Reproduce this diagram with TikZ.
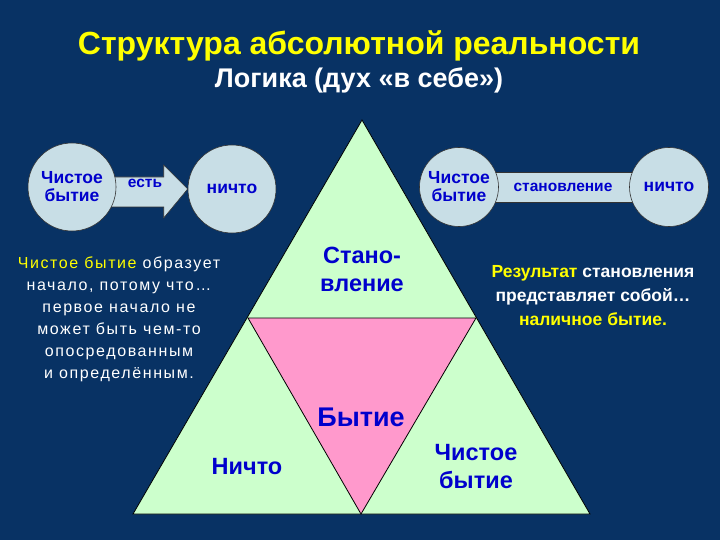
\documentclass[tikz,border=0pt]{standalone}
\usepackage{fontspec}
\setmainfont{Liberation Sans}
\newfontfamily\spacedfont[LetterSpace=10]{Liberation Sans}
\usetikzlibrary{calc}
\definecolor{bgnavy}{RGB}{8,50,100}
\definecolor{trigreen}{RGB}{204,255,204}
\definecolor{tripink}{RGB}{255,153,204}
\definecolor{circfill}{RGB}{200,222,230}
\definecolor{txtblue}{RGB}{0,0,204}
\definecolor{ttlyellow}{RGB}{255,255,0}
\pgfdeclarelayer{back}
\pgfdeclarelayer{bg}
\pgfsetlayers{back,bg,main}
\tikzset{
  circ/.style={circle, draw=black!80, line width=0.6pt, fill=circfill, text=txtblue, font=\bfseries\fontsize{17.5}{18}\selectfont, align=center, inner sep=0pt},
  conn/.style={draw=black!80, line width=0.6pt, fill=circfill},
  tri/.style={draw=black, line width=0.8pt},
  tlabel/.style={text=txtblue, font=\bfseries\fontsize{23.5}{28}\selectfont, align=center},
  para/.style={text=white, align=center},
  small/.style={text=txtblue, font=\bfseries\fontsize{15.5}{16}\selectfont},
}
\begin{document}
\begin{tikzpicture}[x=1pt,y=-1pt]
\begin{pgfonlayer}{back}
\fill[bgnavy] (0,0) rectangle (720,540);
\end{pgfonlayer}
\useasboundingbox (0,0) rectangle (720,540);
% titles
\node[text=ttlyellow, font=\bfseries\fontsize{32}{34}\selectfont] (title) at (359,46) {Структура абсолютной реальности};
\node[text=white, font=\bfseries\fontsize{27}{29}\selectfont] (subtitle) at (359,80) {Логика (дух «в себе»)};
% big triangle
\coordinate (A) at (362,120);
\coordinate (B) at (133,514);
\coordinate (C) at (590,514);
\coordinate (ML) at (248,318);
\coordinate (MR) at (476,318);
\coordinate (MB) at (361,514);
\filldraw[tri, fill=trigreen] (A) -- (B) -- (C) -- cycle;
\filldraw[tri, fill=tripink] (ML) -- (MR) -- (MB) -- cycle;
% triangle labels
\node[tlabel] (stan) at (362,269) {Стано-\\вление};
\node[tlabel, font=\bfseries\fontsize{27}{28}\selectfont] (byt) at (361,417) {Бытие};
\node[tlabel] (nich) at (247,467) {Ничто};
\node[tlabel] (chb) at (476,467) {Чистое\\бытие};
% left circles
\node[circ, minimum size=88pt] (lc1) at (72,187) {Чистое\\бытие};
\node[circ, minimum size=88pt] (lc2) at (232,189) {ничто};
\begin{pgfonlayer}{bg}
\filldraw[conn] ($(lc1.center)+(0,-10)$) -- ($(lc2.west)+(-24,-12)$) -- ($(lc2.west)+(-24,-24)$) -- (lc2.west) -- ($(lc2.west)+(-24,29)$) -- ($(lc2.west)+(-24,18)$) -- ($(lc1.center)+(0,20)$) -- cycle;
\end{pgfonlayer}
\node[small] (est) at (145,183) {есть};
% right circles
\node[circ, minimum size=79pt] (rc1) at (459,187) {Чистое\\бытие};
\node[circ, minimum size=79pt] (rc2) at (669,187) {ничто};
\begin{pgfonlayer}{bg}
\filldraw[conn] ($(rc1.center)+(0,-15)$) rectangle ($(rc2.center)+(0,15)$);
\end{pgfonlayer}
\node[small] (stv) at (563,187) {становление};
% paragraphs
\node[para, font=\spacedfont\fontsize{16}{22}\selectfont] (lpar) at (119,319) {\textcolor{ttlyellow}{Чистое бытие} образует\\начало, потому что…\\первое начало не\\может быть чем-то\\опосредованным\\и определённым.};
\node[para, font=\bfseries\fontsize{17.5}{24}\selectfont] (rpar) at (593,296) {\textcolor{ttlyellow}{Результат} становления\\представляет собой…\\\textcolor{ttlyellow}{наличное бытие.}};
\end{tikzpicture}
\end{document}
